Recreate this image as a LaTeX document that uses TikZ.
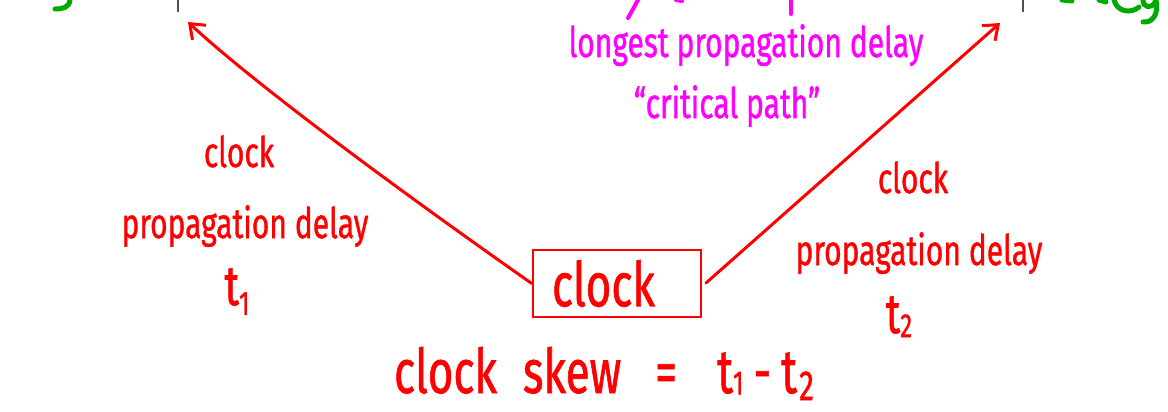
\documentclass[tikz,border=0pt]{standalone}
\usepackage{fontspec}
\setmainfont{Fira Sans}[FakeBold=1.2]
\usepackage{graphicx}
\usetikzlibrary{arrows.meta}
\definecolor{pen}{RGB}{255,0,0}
\definecolor{hilite}{RGB}{255,0,255}
\definecolor{regc}{RGB}{0,170,0}
\definecolor{tick}{RGB}{80,80,80}
\newcommand\hw[1]{\scalebox{1}[1.4]{#1}}
\newcommand\subdigit[2]{\raisebox{-#1}{\fontsize{24}{28}\selectfont #2}}
\newcommand\bigdigit[2]{\raisebox{-#1}{\fontsize{30}{34}\selectfont #2}}
\begin{document}
\begin{tikzpicture}[x=1pt,y=-1pt,
  redtxt/.style={text=pen, font=\fontsize{30}{36}\selectfont, anchor=base, inner sep=0pt},
  ttxt/.style={text=pen, font=\fontsize{40}{46}\selectfont, anchor=base, inner sep=0pt},
  magtxt/.style={text=hilite, font=\fontsize{30}{36}\selectfont, anchor=base, inner sep=0pt},
  bigtxt/.style={text=pen, font=\fontsize{44}{50}\selectfont, anchor=base, inner sep=0pt},
  wire/.style={draw=pen, line width=3pt, line cap=round, line join=round,
    -{Straight Barb[length=13pt,width=20pt,line width=3pt]}},
  frag/.style={line width=5pt, line cap=round},
  clockbox/.style={draw=pen, line width=2.5pt, minimum width=168pt, minimum height=67pt,
    text width=130pt, align=left, text=pen, font=\fontsize{44}{50}\selectfont, inner sep=0pt}]
\useasboundingbox (0,0) rectangle (1168,412);

% fragments cut by the top edge
\draw[regc, frag] (70,0) .. controls (69,8) and (62,9) .. (55,9);
\draw[regc, frag] (1062,0) -- (1072,1);
\draw[regc, frag] (1099,0) -- (1106,2);
\draw[regc, frag] (1114,0) .. controls (1117,12) and (1131,14) .. (1139,7);
\draw[regc, frag] (1143,0) .. controls (1143,8) and (1152,9) .. (1155,2);
\draw[regc, frag] (1156,0) .. controls (1159,15) and (1152,23) .. (1143,22);
\draw[tick, line width=1.5pt] (178,0) -- (178,12);
\draw[tick, line width=1.5pt] (1023,0) -- (1023,12);
\draw[hilite, line width=4pt, line cap=round] (628,18) -- (638,0);
\draw[hilite, line width=4pt, line cap=round] (676,0) -- (682,1);
\draw[hilite, line width=4pt, line cap=round] (791,0) -- (791,14);

% clock box and wires
\node[clockbox] (clk) at (617,283.5) {\hw{clock}};
\coordinate (tipL) at (188,22);
\coordinate (tipR) at (1000,23);
\coordinate (startR) at (706,283);
\draw[wire] (clk.west) .. controls (390,184) and (250,80) .. (tipL);
\draw[wire] (startR) -- (tipR);

% left label
\node[redtxt] (lc) at (239,167) {\hw{clock}};
\node[redtxt] (lp) at (245,238) {\hw{propagation delay}};
\node[ttxt] (lt) at (237,305) {\hw{t\subdigit{7pt}{1}}};

% right label
\node[redtxt] (rc) at (913,193) {\hw{clock}};
\node[redtxt] (rp) at (919,265) {\hw{propagation delay}};
\node[ttxt] (rt) at (899,333) {\hw{t\subdigit{3pt}{2}}};

% critical path text
\node[magtxt] (crit1) at (746,57) {\hw{longest propagation delay}};
\node[magtxt] (crit2) at (727,118) {\hw{“critical path”}};

% skew equation
\node[bigtxt] (skew) at (604,393) {\hw{clock\hspace{26pt}skew\hspace{34pt}=\hspace{40pt}t\subdigit{1pt}{1}\hspace{10pt}-\hspace{10pt}t\hspace{2pt}\bigdigit{5pt}{2}}};
\end{tikzpicture}
\end{document}
